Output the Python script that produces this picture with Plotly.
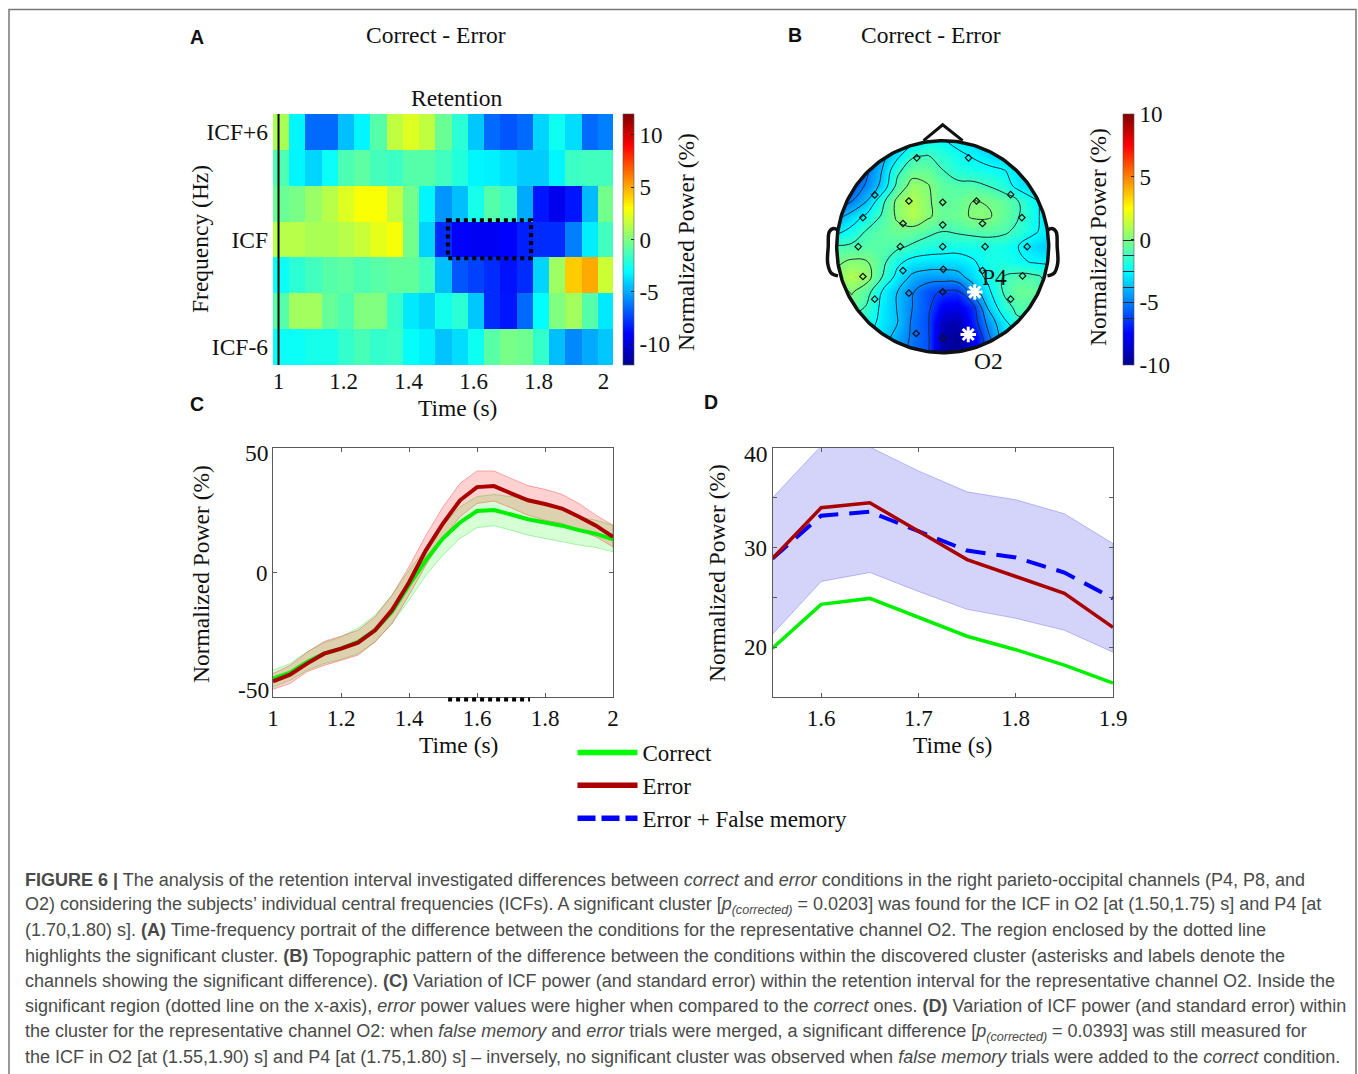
import plotly.graph_objects as go
import numpy as np

W, H = 1358, 1074
SERIF = "Liberation Serif"
SANS = "Liberation Sans"

# ---------- Panel A data ----------
tf_rows = ["ICF+6", "", "", "ICF", "", "", "ICF-6"]
tf_time = [1.008 + 0.05 * i for i in range(21)]
tf_r0 = [1.0, -3.2, -6.5, -6.5, -4.5, -3.2, -1.0, 1.5, 2.2, 1.5, -0.5, -2.0, -4.3, -6.5, -7.0, -6.5, -4.0, -2.7, -3.8, -6.5, -6.0]
tf_r1 = [-1.2, -3.2, -4.0, -2.8, -1.2, -0.8, -1.4, -1.6, -1.0, -1.0, -1.5, -2.2, -3.2, -3.3, -3.7, -4.2, -4.2, -3.2, -1.6, -1.5, -1.5]
tf_r2 = [-0.5, -0.2, 0.6, 1.3, 2.2, 2.9, 2.9, 1.6, -0.3, -3.2, -5.5, -4.5, -2.5, -1.0, -1.6, -5.0, -8.5, -9.5, -8.5, -4.6, -0.3]
tf_r3 = [1.3, 1.3, 1.0, 1.0, 1.3, 1.7, 2.4, 2.8, -0.3, -4.0, -8.0, -9.0, -9.3, -9.3, -9.0, -8.3, -8.0, -8.0, -6.0, -3.4, -1.5]
tf_r4 = [-2.8, -2.0, -1.5, -1.0, -0.8, -1.2, -0.9, -0.7, -0.7, -1.5, -4.5, -7.0, -7.5, -8.0, -8.6, -8.0, -4.0, 0.7, 4.2, 5.0, 1.8]
tf_r5 = [-1.0, 0.8, 0.8, -0.6, -1.2, 0.0, 0.0, -1.7, -3.5, -4.0, -2.6, -2.0, -4.3, -8.0, -8.5, -6.5, -3.0, 0.0, 0.8, -1.0, -3.5]
tf_r6 = [-2.8, -2.8, -2.5, -2.5, -1.8, -1.3, -1.8, -1.6, -2.9, -3.3, -4.4, -3.8, -2.7, -0.9, -0.2, -0.4, -1.8, -4.5, -5.8, -5.0, -4.3]
tf_ticks = [1, 1.2, 1.4, 1.6, 1.8, 2]
cbar_a_ticks = [-10, -5, 0, 5, 10]

# ---------- Panel B data (scalp surface read on a 15x15 grid, head units) ----------
scalp_axis = [-1, -6/7, -5/7, -4/7, -3/7, -2/7, -1/7, 0, 1/7, 2/7, 3/7, 4/7, 5/7, 6/7, 1]
scalp_r00 = [-6.5, -6.5, -6, -5, -4, -2.9, -2.3, -2.4, -2.9, -3.2, -3.5, -3.8, -4, -4, -4]
scalp_r01 = [-6.5, -6.2, -5.6, -4.2, -2.8, -1.4, -1.2, -1.7, -2.2, -2.6, -3, -3.4, -3.7, -3.9, -4]
scalp_r02 = [-7, -6.4, -5.2, -3.7, -1.5, -0.5, -0.5, -1.2, -1.8, -2, -2.2, -2.4, -3, -3.4, -3.8]
scalp_r03 = [-6.5, -5.8, -4.8, -3.4, -0.9, 0.5, 0.1, -0.7, -0.9, -0.9, -1.25, -1.8, -2.9, -3.3, -3.6]
scalp_r04 = [-6, -5, -3.7, -1.6, 0.3, 1, 0.2, -0.6, -0.5, 0, -0.1, -0.5, -1.25, -2.3, -3]
scalp_r05 = [-4.2, -3.2, -2.2, -1.1, 0.2, 1, 0.2, -0.5, -0.4, 0.15, 0.15, -0.5, -1.2, -2.2, -3]
scalp_r06 = [-2.8, -2.1, -1.1, -0.7, -0.4, -0.5, -0.9, -1.25, -1.1, -0.9, -0.8, -1.0, -1.6, -2.3, -3]
scalp_r07 = [-1.1, -1.0, -0.8, -0.8, -1, -1.45, -1.9, -2.0, -2.1, -2.1, -2.0, -2.1, -2.5, -3.2, -3.4]
scalp_r08 = [-0.2, 0.2, 0.05, -0.9, -2.2, -2.9, -3, -3.05, -3, -2.6, -2.1, -2, -2.3, -2.6, -2.7]
scalp_r09 = [0.3, 1, 0.5, -1.25, -2.9, -4, -4.4, -4.4, -4.2, -3.2, -2.2, -1.25, -0.9, -1, -1.5]
scalp_r10 = [-0.6, 0.1, -0.8, -2.6, -3.75, -4.9, -5.9, -6.4, -6.5, -4.5, -2.8, -1.2, -0.4, -0.5, -1.5]
scalp_r11 = [-0.5, -0.5, -1.4, -2.8, -3.8, -5, -5.9, -7.7, -8, -6.7, -3.6, -1.8, -0.9, -1, -1.5]
scalp_r12 = [-2, -2, -1.9, -2.9, -3.7, -5.2, -6, -9, -9.2, -7, -4.6, -2.9, -1.5, -2, -2]
scalp_r13 = [-3, -3, -2.6, -3.2, -4.2, -5.2, -5.9, -9.4, -9.8, -8, -5.3, -3.3, -3, -3, -3]
scalp_r14 = [-3, -3, -3, -3.5, -4.5, -5.4, -5.9, -9.5, -9.8, -8, -6, -4.5, -3, -3, -3]
elec_x = [-0.245, 0.244, -0.641, 0.641, -0.319, 0, 0.319, -0.753, 0.747, -0.375, 0, 0.375, -0.797, -0.4, 0, 0.4, 0.797, -0.753, -0.375, 0.006, 0.375, 0.753, -0.641, -0.319, 0, 0.319, 0.641, -0.25, 0]
elec_y = [0.838, 0.838, 0.488, 0.491, 0.431, 0.419, 0.431, 0.275, 0.275, 0.219, 0.206, 0.219, 0, 0, 0, 0, 0, -0.281, -0.225, -0.213, -0.225, -0.275, -0.495, -0.438, -0.425, -0.438, -0.495, -0.819, -0.863]
star_x = [0.303, 0.241]
star_y = [-0.428, -0.828]
nose_x = [-0.181, 0, 0.188]
nose_y = [1.0, 1.15, 1.0]
ear_l_x = [-0.988, -1.03, -1.07, -1.08, -1.085, -1.05, -0.988]
ear_l_y = [0.156, 0.172, 0.14, 0.0, -0.156, -0.25, -0.275]
ear_r_x = [0.988, 1.03, 1.07, 1.08, 1.085, 1.05, 0.988]
ear_r_y = [0.156, 0.172, 0.14, 0.0, -0.156, -0.25, -0.275]

# ---------- Panel C data ----------
c_time = [1 + 0.05 * i for i in range(21)]
c_green = [-42.6, -40.2, -35.9, -32.6, -30.6, -27.9, -23.2, -15.8, -5.1, 5, 13.7, 20.1, 24.7, 25.1, 23.3, 21.4, 20.1, 18.8, 17, 15.5, 13.3]
c_green_up = [-39.3, -36.6, -31.9, -28.2, -25.9, -22.3, -17.2, -9.1, 0.9, 9.7, 19, 26.4, 30.5, 31.3, 30.5, 29.8, 27.7, 25, 22.4, 21, 19]
c_green_lo = [-46, -43.3, -39.3, -36.6, -34.9, -32.6, -27.9, -20.5, -11.1, -1.1, 7, 13.7, 18, 18.8, 17, 15, 13.7, 12.3, 11, 10, 8.3]
c_red = [-43.7, -41, -36.6, -32.6, -30.6, -28.2, -23.2, -15.1, -4, 9, 19.7, 29, 34.3, 34.7, 31.8, 29, 27.5, 25.7, 22.4, 18.8, 14.3]
c_red_up = [-40.6, -37.3, -32, -27.7, -25.6, -23.2, -17.8, -9.1, 2.3, 15, 26.4, 35.8, 40.8, 40.8, 37.8, 34.9, 33.4, 31.4, 27.7, 23, 19]
c_red_lo = [-46.9, -44.6, -39.9, -37.3, -35.3, -33.2, -27.9, -20.5, -9.1, 3, 13.7, 22.4, 27.7, 28.7, 26, 23, 21, 19.7, 17, 14.3, 10.3]
c_xticks = [1, 1.2, 1.4, 1.6, 1.8, 2]

# ---------- Panel D data ----------
d_time = [1.55, 1.6, 1.65, 1.7, 1.75, 1.8, 1.85, 1.9]
d_green = [19.9, 24.3, 24.9, 23, 21.1, 19.75, 18.2, 16.4]
d_red = [28.9, 34, 34.5, 31.7, 28.8, 27.1, 25.4, 22]
d_blue = [28.9, 33.2, 33.6, 31.6, 29.7, 29, 27.5, 24.9]
d_blue_up = [35, 40.2, 40.1, 37.7, 35.6, 34.8, 33.4, 30.4]
d_blue_lo = [21.3, 26.6, 27.5, 25.6, 23.8, 22.9, 21.7, 19.5]
d_xticks = [1.6, 1.7, 1.8, 1.9]
legend_names = ["Correct", "Error", "Error + False memory"]

caption = [
 "<b>FIGURE 6 |</b> The analysis of the retention interval investigated differences between <i>correct</i> and <i>error</i> conditions in the right parieto-occipital channels (P4, P8, and",
 "O2) considering the subjects’ individual central frequencies (ICFs). A significant cluster [<i>p</i><sub><i>(corrected)</i></sub> = 0.0203] was found for the ICF in O2 [at (1.50,1.75) s] and P4 [at",
 "(1.70,1.80) s]. <b>(A)</b> Time-frequency portrait of the difference between the conditions for the representative channel O2. The region enclosed by the dotted line",
 "highlights the significant cluster. <b>(B)</b> Topographic pattern of the difference between the conditions within the discovered cluster (asterisks and labels denote the",
 "channels showing the significant difference). <b>(C)</b> Variation of ICF power (and standard error) within the retention interval for the representative channel O2. Inside the",
 "significant region (dotted line on the x-axis), <i>error</i> power values were higher when compared to the <i>correct</i> ones. <b>(D)</b> Variation of ICF power (and standard error) within",
 "the cluster for the representative channel O2: when <i>false memory</i> and <i>error</i> trials were merged, a significant difference [<i>p</i><sub><i>(corrected)</i></sub> = 0.0393] was still measured for",
 "the ICF in O2 [at (1.55,1.90) s] and P4 [at (1.75,1.80) s] – inversely, no significant cluster was observed when <i>false memory</i> trials were added to the <i>correct</i> condition.",
]
caption_y = [880, 905, 930, 956, 981, 1006, 1032, 1057]

JET = [[0, "rgb(0,0,143)"], [0.125, "rgb(0,0,255)"], [0.375, "rgb(0,255,255)"],
       [0.625, "rgb(255,255,0)"], [0.875, "rgb(255,0,0)"], [1, "rgb(128,0,0)"]]
FRAME = "#5a5a5a"
TXT = "#111111"


def px(x):
    return x / W


def py(y):
    return 1 - y / H


def dom_x(a, b):
    return [px(a), px(b)]


def dom_y(top, bottom):
    return [py(bottom), py(top)]


def cbar(x_px, top, bottom, vals, labels):
    return dict(x=px(x_px), xanchor="left", xref="paper", y=py(top), yanchor="top", yref="paper",
                lenmode="pixels", len=bottom - top, thickness=11, thicknessmode="pixels",
                xpad=0, ypad=0, outlinecolor="#555", outlinewidth=0.6,
                tickmode="array", tickvals=vals, ticktext=labels, ticks="inside", ticklen=3,
                tickcolor="#222", tickwidth=1,
                tickfont=dict(family=SERIF, size=23, color=TXT))


fig = go.Figure()

# A
fig.add_trace(go.Heatmap(x=tf_time, y=list(range(7)),
                         z=[tf_r0, tf_r1, tf_r2, tf_r3, tf_r4, tf_r5, tf_r6],
                         colorscale=JET, zmin=-12, zmax=12, xaxis="x", yaxis="y",
                         colorbar=cbar(623, 114, 365, cbar_a_ticks, [str(v) for v in cbar_a_ticks])))

# B
fig.add_trace(go.Contour(x=scalp_axis, y=scalp_axis[::-1],
                         z=[scalp_r00, scalp_r01, scalp_r02, scalp_r03, scalp_r04, scalp_r05, scalp_r06,
                            scalp_r07, scalp_r08, scalp_r09, scalp_r10, scalp_r11, scalp_r12, scalp_r13, scalp_r14],
                         colorscale=JET, zauto=False, zmin=-10, zmax=10, xaxis="x2", yaxis="y2",
                         contours=dict(coloring="heatmap", start=-6.25, end=0, size=1.25, showlines=True),
                         line=dict(color="#1a2a3a", width=1, smoothing=1.2),
                         colorbar=cbar(1123, 114, 365, cbar_a_ticks, [str(v) for v in cbar_a_ticks])))
th = np.linspace(0, -2 * np.pi, 241)
box = 1.02
mask_x = [box, box, -box, -box, box, box] + list(np.cos(th))
mask_y = [0, box, box, -box, -box, 0] + list(np.sin(th))
fig.add_trace(go.Scatter(x=mask_x + [box], y=mask_y + [0], mode="none", fill="toself", fillcolor="white",
                         xaxis="x2", yaxis="y2", showlegend=False, hoverinfo="skip"))
fig.add_trace(go.Scatter(x=nose_x, y=nose_y, mode="lines", line=dict(color="#111", width=3),
                         xaxis="x2", yaxis="y2", showlegend=False))
for ex, ey in ((ear_l_x, ear_l_y), (ear_r_x, ear_r_y)):
    fig.add_trace(go.Scatter(x=ex, y=ey, mode="lines", line=dict(color="#111", width=3.5, shape="spline"),
                             xaxis="x2", yaxis="y2", showlegend=False))
fig.add_trace(go.Scatter(x=np.cos(th), y=np.sin(th), mode="lines", line=dict(color="#111", width=3.5),
                         xaxis="x2", yaxis="y2", showlegend=False))
fig.add_trace(go.Scatter(x=elec_x, y=elec_y, mode="markers",
                         marker=dict(symbol="diamond-open", size=5, color="#111", line=dict(width=1.2, color="#111")),
                         xaxis="x2", yaxis="y2", showlegend=False))
fig.add_trace(go.Scatter(x=star_x, y=star_y, mode="markers",
                         marker=dict(symbol="asterisk-open", size=13, color="white", line=dict(width=3, color="white")),
                         xaxis="x2", yaxis="y2", showlegend=False))


# C
def band(x, up, lo, fill, edge, xa, ya):
    fig.add_trace(go.Scatter(x=list(x) + list(x)[::-1], y=list(up) + list(lo)[::-1], mode="lines", fill="toself",
                             fillcolor=fill, line=dict(color=edge, width=1), xaxis=xa, yaxis=ya, showlegend=False,
                             hoverinfo="skip"))


band(c_time, c_green_up, c_green_lo, "rgba(0,255,0,0.16)", "rgba(0,220,0,0.3)", "x3", "y3")
band(c_time, c_red_up, c_red_lo, "rgba(255,0,0,0.18)", "rgba(240,0,0,0.3)", "x3", "y3")
fig.add_trace(go.Scatter(x=c_time, y=c_green, mode="lines", line=dict(color="rgb(0,240,0)", width=4),
                         xaxis="x3", yaxis="y3", showlegend=False))
fig.add_trace(go.Scatter(x=c_time, y=c_red, mode="lines", line=dict(color="rgb(170,0,0)", width=4),
                         xaxis="x3", yaxis="y3", showlegend=False))

# D
band(d_time, d_blue_up, d_blue_lo, "rgba(60,60,230,0.22)", "rgba(60,60,230,0.3)", "x4", "y4")
fig.add_trace(go.Scatter(x=d_time, y=d_blue, mode="lines", line=dict(color="rgb(0,0,255)", width=4, dash="20px,11px"),
                         xaxis="x4", yaxis="y4", showlegend=False))
fig.add_trace(go.Scatter(x=d_time, y=d_red, mode="lines", line=dict(color="rgb(170,0,0)", width=3.5),
                         xaxis="x4", yaxis="y4", showlegend=False))
fig.add_trace(go.Scatter(x=d_time, y=d_green, mode="lines", line=dict(color="rgb(0,240,0)", width=3.5),
                         xaxis="x4", yaxis="y4", showlegend=False))

# legend entries
for name, col, dash in zip(legend_names, ["rgb(0,255,0)", "rgb(170,0,0)", "rgb(0,0,255)"], ["solid", "solid", "18px,6px"]):
    fig.add_trace(go.Scatter(x=[None], y=[None], mode="lines", name=name,
                             line=dict(color=col, width=5.5, dash=dash), xaxis="x4", yaxis="y4"))

tickfont = dict(family=SERIF, size=23, color=TXT)


def framed(**kw):
    base = dict(showgrid=False, zeroline=False, showline=True, linecolor=FRAME, linewidth=1, mirror="ticks",
                ticks="inside", ticklen=4, tickcolor=FRAME, tickfont=tickfont, tickmode="array")
    base.update(kw)
    return base


ann = []


def txt(x, y, s, size=23.5, fam=SERIF, rot=0, anchor="center", color=TXT):
    ann.append(dict(x=px(x), y=py(y), xref="paper", yref="paper", text=s, showarrow=False, textangle=rot,
                    xanchor=anchor, yanchor="middle", font=dict(family=fam, size=size, color=color)))


for lab, x, y in (("A", 197, 37), ("B", 795, 35), ("C", 197, 404), ("D", 711, 402)):
    txt(x, y, "<b>%s</b>" % lab, size=19.5, fam=SANS)
txt(436, 35, "Correct - Error")
txt(931, 35, "Correct - Error")
txt(457, 98, "Retention")
txt(200, 239, "Frequency (Hz)", rot=-90)
txt(457, 408, "Time (s)")
txt(686, 242, "Normalized Power (%)", rot=-90)
txt(1098, 237, "Normalized Power (%)", rot=-90)
txt(201, 574, "Normalized Power (%)", rot=-90)
txt(717, 573, "Normalized Power (%)", rot=-90)
txt(458, 745, "Time (s)")
txt(953, 745, "Time (s)")
txt(995, 277, "P4")
txt(988, 361, "O2")
txt(271, 453, "50", anchor="right")
txt(271, 690, "-50", anchor="right")
txt(770, 454, "40", anchor="right")
for line, y in zip(caption, caption_y):
    txt(23, y, line, size=18, fam=SANS, anchor="left", color="#4a4a4a")

x_a0 = 0.983
shapes = [
    dict(type="line", xref="x", yref="y", x0=1, x1=1, y0=-0.5, y1=6.5, line=dict(color="black", width=2)),
    dict(type="rect", xref="x", yref="y", x0=1.521, x1=1.777, y0=2.46, y1=3.52, line=dict(color="black", width=4, dash="dot")),
    dict(type="line", xref="x3", yref="paper", x0=1.515, x1=1.756, y0=py(699.5), y1=py(699.5), line=dict(color="black", width=4, dash="dot")),
    dict(type="rect", xref="paper", yref="paper", x0=px(9), x1=px(1356), y0=py(9.5), y1=py(1090), line=dict(color="#777", width=1.5)),
]

fig.update_layout(
    width=W, height=H, margin=dict(l=0, r=0, t=0, b=0, autoexpand=False), autosize=False,
    paper_bgcolor="white", plot_bgcolor="white",
    xaxis=dict(domain=dom_x(273, 613), range=[x_a0, x_a0 + 340 / 325], showgrid=False, zeroline=False, ticks="",
               tickmode="array", tickvals=tf_ticks, ticktext=[str(v) for v in tf_ticks], tickfont=tickfont, anchor="y"),
    yaxis=dict(domain=dom_y(114, 365), range=[6.5, -0.5], showgrid=False, zeroline=False, ticks="",
               tickmode="array", tickvals=[0, 3, 6], ticktext=[tf_rows[0], tf_rows[3], tf_rows[6]],
               tickfont=dict(family=SERIF, size=23.5, color=TXT), anchor="x", ticklabelstandoff=4),
    xaxis2=dict(domain=dom_x(815.5, 1069.9), range=[-1.2, 1.2], visible=False, anchor="y2"),
    yaxis2=dict(domain=dom_y(119.5, 373.9), range=[-1.2, 1.2], visible=False, anchor="x2"),
    xaxis3=framed(domain=dom_x(273, 613), range=[1, 2], tickvals=c_xticks, ticktext=[str(v) for v in c_xticks], anchor="y3"),
    yaxis3=framed(domain=dom_y(448, 697), range=[-50, 50], tickvals=[0], ticktext=["0"], anchor="x3",
                  minor=dict(tickmode="array", tickvals=[-50, 50], ticks="inside", ticklen=4, tickcolor=FRAME)),
    xaxis4=framed(domain=dom_x(772.5, 1113), range=[1.55, 1.9], tickvals=d_xticks, ticktext=[str(v) for v in d_xticks], anchor="y4"),
    yaxis4=framed(domain=dom_y(448, 697), range=[15, 40], tickvals=[20, 30], ticktext=["20", "30"], anchor="x4",
                  minor=dict(tickmode="array", tickvals=[15, 25, 35, 40], ticks="inside", ticklen=4, tickcolor=FRAME)),
    legend=dict(x=px(572.5), y=py(731), xanchor="left", yanchor="top", itemwidth=60, bgcolor="rgba(0,0,0,0)",
                font=dict(family=SERIF, size=23, color=TXT), tracegroupgap=0, itemclick=False, itemdoubleclick=False),
    annotations=ann, shapes=shapes, showlegend=True,
)

fig.write_html("out.html", config={"displayModeBar": False},
               post_script="document.body.style.margin='0';document.body.style.overflow='hidden';")
